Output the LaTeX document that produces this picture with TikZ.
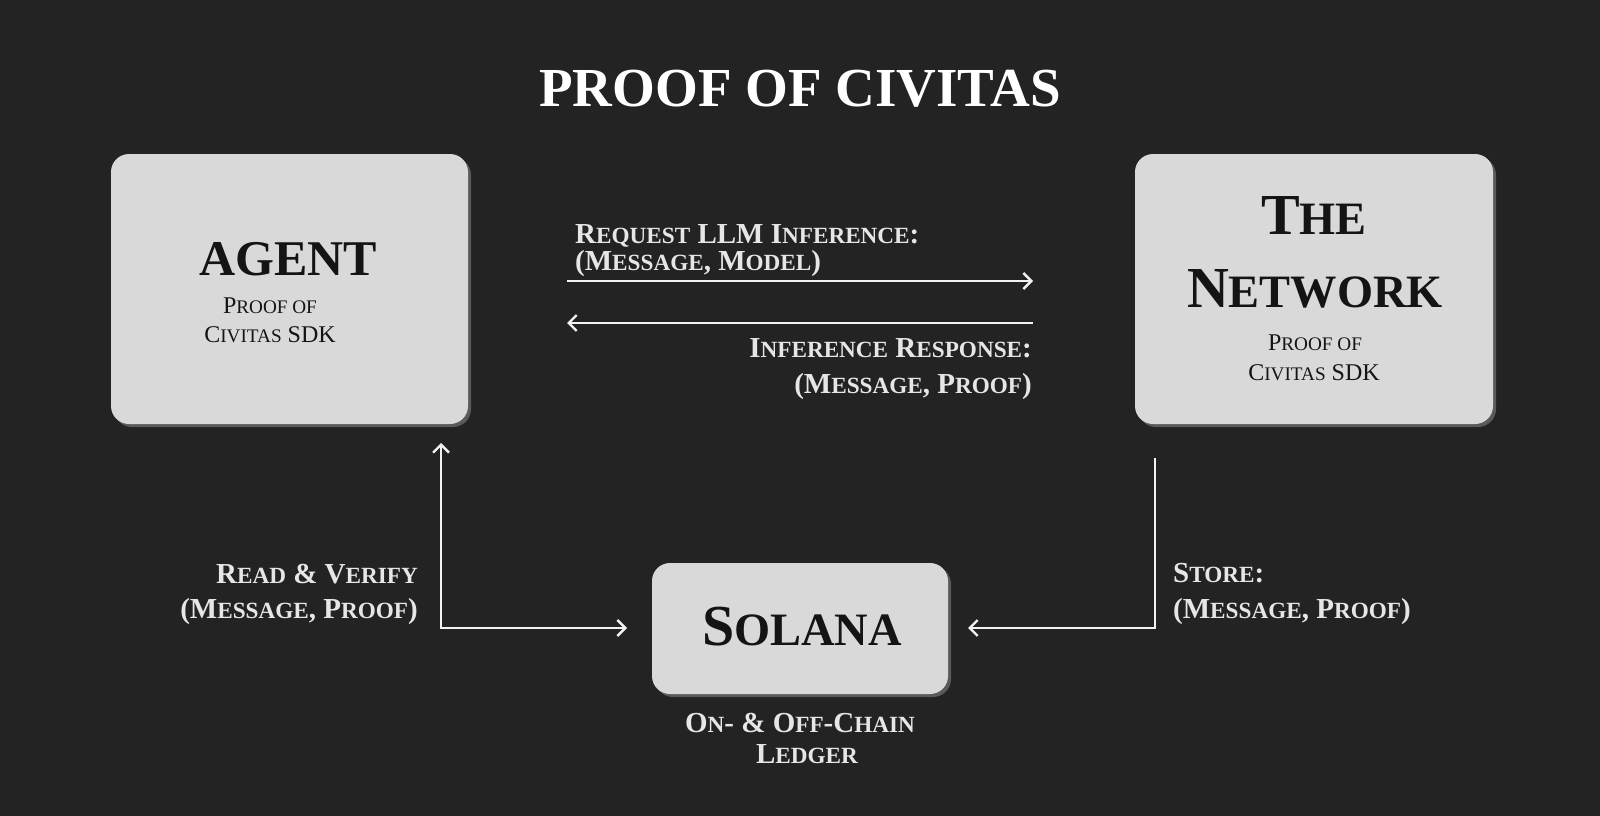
\documentclass[tikz,border=0pt]{standalone}
\usepackage{fontspec}
\setmainfont{Liberation Serif}
\usetikzlibrary{arrows.meta,shadows}
\definecolor{bg}{HTML}{232323}
\definecolor{boxfill}{HTML}{D9D9D9}
\definecolor{ink}{HTML}{141414}
\definecolor{lbl}{HTML}{E6E6E6}
\definecolor{shd}{HTML}{5A5A5A}
\definecolor{wire}{HTML}{F2F2F2}
\makeatletter
\newcommand\smc[1]{{\fontsize{\strip@pt\dimexpr0.8\dimexpr\f@size pt\relax\relax}{0}\selectfont\MakeUppercase{#1}}}
\makeatother
\begin{document}
\begin{tikzpicture}[x=1pt,y=-1pt,
  card/.style={fill=boxfill, rounded corners=18pt, draw=none, inner sep=0pt,
    general shadow={shadow xshift=3pt, shadow yshift=-3pt, fill=shd}},
  boxtitle/.style={text=ink, inner sep=0pt, anchor=base, font=\fontsize{#1}{#1}\selectfont\bfseries},
  boxsub/.style={text=ink, inner sep=0pt, anchor=base, font=\fontsize{24}{24}\selectfont},
  lab/.style={text=lbl, inner sep=0pt, font=\fontsize{29}{29}\selectfont\bfseries},
  tip/.tip={Straight Barb[length=8pt,width=16pt]},
  arr/.style={draw=wire, line width=2.4pt, -tip},
  arrboth/.style={draw=wire, line width=2.4pt, tip-tip}
]
\fill[bg] (0,0) rectangle (1600,816);
\useasboundingbox (0,0) rectangle (1600,816);

% title
\node[text=white, inner sep=0pt, anchor=base, font=\fontsize{55}{55}\selectfont\bfseries] (title) at (800,106) {PROOF OF CIVITAS};

% boxes
\node[card, minimum width=357pt, minimum height=270pt] (agent) at (289.5,289) {};
\node[card, minimum width=358pt, minimum height=270pt] (network) at (1314,289) {};
\node[card, minimum width=296pt, minimum height=131pt] (solana) at (800,628.5) {};

% box texts
\node[boxtitle=50] (agentT) at (288,275) {AGENT};
\node[boxsub] (agentS1) at (270,313) {P\smc{roof of}};
\node[boxsub] (agentS2) at (270,342) {C\smc{ivitas} SDK};

\node[boxtitle=58] (netT1) at (1314,234) {T\smc{he}};
\node[boxtitle=58] (netT2) at (1315,307) {N\smc{etwork}};
\node[boxsub] (netS1) at (1315,350) {P\smc{roof of}};
\node[boxsub] (netS2) at (1314,380) {C\smc{ivitas} SDK};

\node[boxtitle=58] (solT) at (802,645) {S\smc{olana}};
\node[lab, anchor=base] (sol1) at (800,732) {O\smc{n}- \& O\smc{ff}-C\smc{hain}};
\node[lab, anchor=base] (sol2) at (807,763) {L\smc{edger}};

% connector end points
\coordinate (t1) at (567,281);
\coordinate (t2) at (1033,281);
\coordinate (b1) at (1033,323);
\coordinate (b2) at (567,323);
\coordinate (l1) at (441,443);
\coordinate (l2) at (627,628);
\coordinate (r1) at (1155,458);
\coordinate (r2) at (968,628);

\draw[arr] (t1) -- (t2);
\draw[arr] (b1) -- (b2);
\draw[arrboth] (l1) |- (l2);
\draw[arr] (r1) |- (r2);

% labels
\node[lab, anchor=base west] (req1) at (575,243) {R\smc{equest} LLM I\smc{nference}:};
\node[lab, anchor=base west] (req2) at (575,270) {(M\smc{essage}, M\smc{odel})};
\node[lab, anchor=base east] (resp1) at (1032,357) {I\smc{nference} R\smc{esponse}:};
\node[lab, anchor=base east] (resp2) at (1032,393) {(M\smc{essage}, P\smc{roof})};
\node[lab, anchor=base east] (read1) at (418,583) {R\smc{ead} \& V\smc{erify}};
\node[lab, anchor=base east] (read2) at (418,618) {(M\smc{essage}, P\smc{roof})};
\node[lab, anchor=base west] (store1) at (1173,582) {S\smc{tore}:};
\node[lab, anchor=base west] (store2) at (1173,618) {(M\smc{essage}, P\smc{roof})};
\end{tikzpicture}
\end{document}
